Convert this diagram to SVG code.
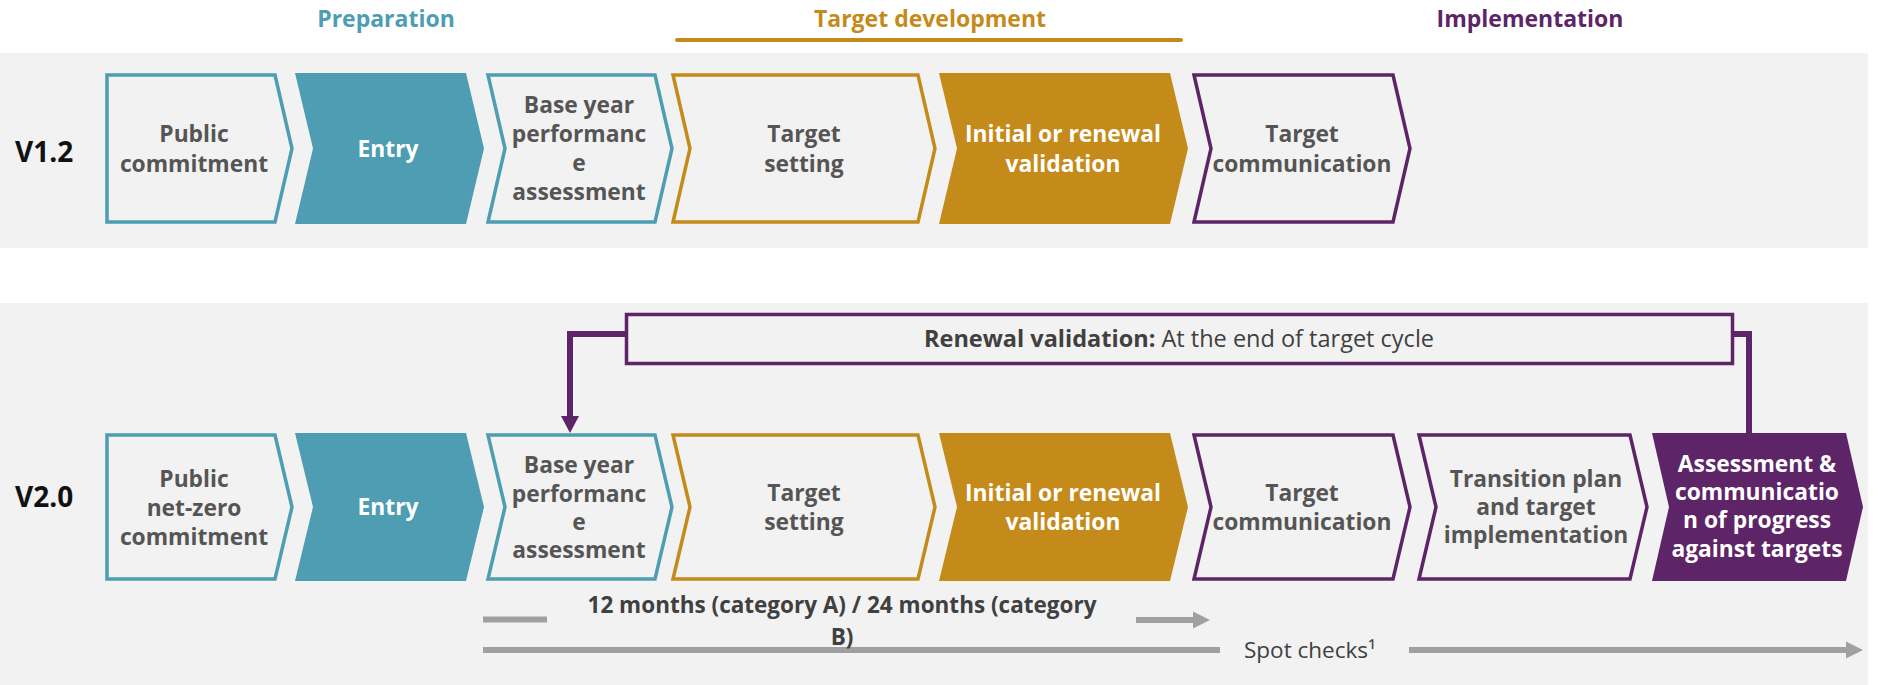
<svg xmlns="http://www.w3.org/2000/svg" width="1878" height="685" viewBox="0 0 1878 685">
<style>
text{font-family:"Open Sans","Liberation Sans",sans-serif}
.hd{font-size:23px;font-weight:700;text-anchor:middle}
.ver{font-size:28px;font-weight:700;fill:#111}
.lb{font-size:22.8px;font-weight:700;fill:#555;text-anchor:middle}
.lw{font-size:22.8px;font-weight:700;fill:#fff;text-anchor:middle}
.ot{fill:none;stroke:#4e9db3;stroke-width:3.5}
.oo{fill:none;stroke:#c58b1a;stroke-width:3.5}
.op{fill:none;stroke:#5e2468;stroke-width:3.5}
.ft{fill:#4e9db3}
.fo{fill:#c58b1a}
.fp{fill:#5e2468}
.con{fill:none;stroke:#5e2468;stroke-width:6}
.gl{fill:none;stroke:#a0a0a0;stroke-width:6}
.gt{font-size:22.5px;fill:#404040}
.tl{font-size:22.5px;font-weight:700;fill:#404040;text-anchor:middle}
</style>
<rect x="0" y="53" width="1868" height="195" fill="#f2f2f2"/>
<rect x="0" y="303" width="1868" height="382" fill="#f2f2f2"/>
<g id="headers">
<text class="hd" x="386" y="27" fill="#4e9db3">Preparation</text>
<text class="hd" x="930" y="27" fill="#c58b1a">Target development</text>
<line x1="677" y1="40" x2="1181" y2="40" stroke="#c58b1a" stroke-width="4" stroke-linecap="round"/>
<text class="hd" x="1530" y="27" fill="#5e2468">Implementation</text>
</g>
<g id="v12-label"><text class="ver" x="15" y="162">V1.2</text></g>
<g id="v20-label"><text class="ver" x="15" y="507">V2.0</text></g>
<g id="v1-public">
<path class="ot" d="M107,75 H275 L292,148.5 L275,222 H107 Z"/>
<text class="lb" x="194" y="142">Public</text><text class="lb" x="194" y="172">commitment</text>
</g>
<g id="v1-entry">
<path class="ft" d="M295,73 H466 L484,148.5 L466,224 H295 L313,148.5 Z"/>
<text class="lw" x="388" y="157">Entry</text>
</g>
<g id="v1-base">
<path class="ot" d="M488,75 H655 L672,148.5 L655,222 H488 L505,148.5 Z"/>
<text class="lb" x="579" y="113">Base year</text><text class="lb" x="579" y="142">performanc</text><text class="lb" x="579" y="171">e</text><text class="lb" x="579" y="200">assessment</text>
</g>
<g id="v1-setting">
<path class="oo" d="M673,75 H918 L935,148.5 L918,222 H673 L690,148.5 Z"/>
<text class="lb" x="804" y="142">Target</text><text class="lb" x="804" y="172">setting</text>
</g>
<g id="v1-validation">
<path class="fo" d="M939,73 H1170 L1188,148.5 L1170,224 H939 L957,148.5 Z"/>
<text class="lw" x="1063" y="142">Initial or renewal</text><text class="lw" x="1063" y="172">validation</text>
</g>
<g id="v1-communication">
<path class="op" d="M1194,75 H1393 L1410,148.5 L1393,222 H1194 L1211,148.5 Z"/>
<text class="lb" x="1302" y="142">Target</text><text class="lb" x="1302" y="172">communication</text>
</g>
<g id="v2-public">
<path class="ot" d="M107,435 H275 L292,507 L275,579 H107 Z"/>
<text class="lb" x="194" y="487">Public</text><text class="lb" x="194" y="516">net-zero</text><text class="lb" x="194" y="545">commitment</text>
</g>
<g id="v2-entry">
<path class="ft" d="M295,433 H466 L484,507 L466,581 H295 L313,507 Z"/>
<text class="lw" x="388" y="515">Entry</text>
</g>
<g id="v2-base">
<path class="ot" d="M488,435 H655 L672,507 L655,579 H488 L505,507 Z"/>
<text class="lb" x="579" y="473">Base year</text><text class="lb" x="579" y="502">performanc</text><text class="lb" x="579" y="530">e</text><text class="lb" x="579" y="558">assessment</text>
</g>
<g id="v2-setting">
<path class="oo" d="M673,435 H918 L935,507 L918,579 H673 L690,507 Z"/>
<text class="lb" x="804" y="501">Target</text><text class="lb" x="804" y="530">setting</text>
</g>
<g id="v2-validation">
<path class="fo" d="M939,433 H1170 L1188,507 L1170,581 H939 L957,507 Z"/>
<text class="lw" x="1063" y="501">Initial or renewal</text><text class="lw" x="1063" y="530">validation</text>
</g>
<g id="v2-communication">
<path class="op" d="M1194,435 H1393 L1410,507 L1393,579 H1194 L1211,507 Z"/>
<text class="lb" x="1302" y="501">Target</text><text class="lb" x="1302" y="530">communication</text>
</g>
<g id="v2-transition">
<path class="op" d="M1419,435 H1630 L1647,507 L1630,579 H1419 L1436,507 Z"/>
<text class="lb" x="1536" y="487">Transition plan</text><text class="lb" x="1536" y="515">and target</text><text class="lb" x="1536" y="543">implementation</text>
</g>
<g id="v2-assessment">
<path class="fp" d="M1652,433 H1846 L1863,507 L1846,581 H1652 L1669,507 Z"/>
<text class="lw" x="1757" y="472">Assessment &amp;</text><text class="lw" x="1757" y="500">communicatio</text><text class="lw" x="1757" y="528">n of progress</text><text class="lw" x="1757" y="557">against targets</text>
</g>
<g id="renewal-box">
<rect x="626.5" y="314.5" width="1106" height="49" fill="none" stroke="#5e2468" stroke-width="3.5"/>
<text x="1179" y="347" font-size="23.5" text-anchor="middle" fill="#404040"><tspan font-weight="700">Renewal validation:</tspan> At the end of target cycle</text>
</g>
<g id="connectors">
<path class="con" d="M626,334 H570 V418"/>
<polygon points="561,416 579,416 570,433" fill="#5e2468"/>
<path class="con" d="M1733,334 H1749 V434"/>
<path class="gl" d="M483,619.5 H547"/>
<path class="gl" d="M1136,620 H1195"/>
<polygon points="1193,611.5 1210,620 1193,628.5" fill="#a0a0a0"/>
<path class="gl" d="M483,650 H1220"/>
<path class="gl" d="M1409,650 H1848"/>
<polygon points="1846,641.5 1863,650 1846,658.5" fill="#a0a0a0"/>
</g>
<g id="timeline-labels">
<text class="tl" x="842" y="613">12 months (category A) / 24 months (category</text>
<text class="tl" x="842" y="645">B)</text>
<text class="gt" x="1244" y="658">Spot checks¹</text>
</g>
</svg>
